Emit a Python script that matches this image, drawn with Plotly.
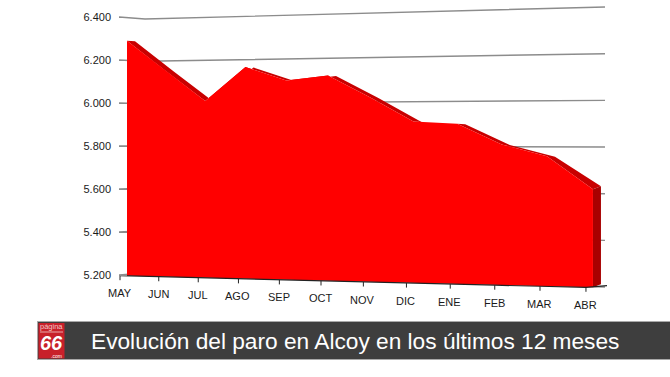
import plotly.graph_objects as go

months = ["MAY", "JUN", "JUL", "AGO", "SEP", "OCT", "NOV", "DIC", "ENE", "FEB", "MAR", "ABR"]
paro = [6293, 6150, 6010, 6163, 6100, 6120, 6020, 5913, 5903, 5812, 5761, 5620]
y_ticks = [5200, 5400, 5600, 5800, 6000, 6200, 6400]
y_labels = ["5.200", "5.400", "5.600", "5.800", "6.000", "6.200", "6.400"]
title = "Evolución del paro en Alcoy en los últimos 12 meses"

W, H = 670, 377
PLOT_L = 119
N = len(months) - 1


def v_of_px(py):
    return 5200 + (275 - py) * 1200 / 258


def px_x(i):
    return 120 + 38.4 * i + 0.36 * i * i


def base_px(i):
    return 275.7 + 11.6 * i / N


def front(i, v):
    t = i / N
    k = 0.215 + 0.0183 * t
    return px_x(i) + 7, base_px(i) - (v - 5200) * k


def back(i, v):
    x, y = front(i, v)
    return x + 8, y + (-3 if i == N else 0.5)


def wall(v):
    """Back-wall line for a value: left stub, wall corner, right end."""
    d = v - 5200
    return [(119, 275 - d * 0.215), (145, 273 - d * 0.2117), (605, 287 - d * 0.2333)]


def trace(points, **kw):
    return go.Scatter(
        x=[p[0] if p else None for p in points],
        y=[v_of_px(p[1]) if p else None for p in points],
        mode="lines", hoverinfo="skip", showlegend=False, cliponaxis=False, **kw)


def px_paper(px, py):
    return (px - PLOT_L) / (W - PLOT_L), 1 - py / H


fig = go.Figure()

for v in y_ticks:
    fig.add_trace(trace(wall(v), line=dict(color="#8c8c8c", width=1.4)))

idx = list(range(len(paro)))
bottom = [front(i, 5200) for i in reversed(idx)]

# top faces, one quad per segment
band = []
for i in idx[:-1]:
    a, b = paro[i], paro[i + 1]
    band += [front(i, a), back(i, a), back(i + 1, b), front(i + 1, b), front(i, a), None]
fig.add_trace(trace(band, fill="toself", fillcolor="#c80000", line=dict(width=0)))

side = [front(N, paro[N]), back(N, paro[N]), back(N, 5200), front(N, 5200), front(N, paro[N])]
fig.add_trace(trace(side, fill="toself", fillcolor="#a80000", line=dict(width=0)))

face = [front(i, v) for i, v in zip(idx, paro)] + bottom
fig.add_trace(trace(face + face[:1], fill="toself", fillcolor="#ff0000", line=dict(width=0)))

# baseline and month ticks
base = [(px_x(i), base_px(i)) for i in idx] + [(607, 285.7)]
fig.add_trace(trace(base, line=dict(color="#222222", width=1.2)))
tick_pts = []
for i in idx:
    tick_pts += [(px_x(i), base_px(i)), (px_x(i), base_px(i) + 4.5), None]
fig.add_trace(trace(tick_pts, line=dict(color="#222222", width=1)))

annotations = []
for i, m in enumerate(months):
    ax, ay = px_paper(px_x(i) - 0.5, 293 + 12 * i / N)
    annotations.append(dict(x=ax, y=ay, xref="paper", yref="paper", text=m, showarrow=False,
                            font=dict(family="Liberation Sans", size=11, color="#1a1a1a"),
                            xanchor="center", yanchor="middle"))


def text(px, py, s, size, anchor="center", color="white", family="Liberation Sans"):
    ax, ay = px_paper(px, py)
    annotations.append(dict(x=ax, y=ay, xref="paper", yref="paper", text=s, showarrow=False,
                            font=dict(family=family, size=size, color=color),
                            xanchor=anchor, yanchor="middle", borderpad=0))


text(90, 341, title, 22.7, anchor="left")
text(51, 326.5, "página", 7.5, color="#f3c8c8")
text(51, 342.5, "<b><i>66</i></b>", 20)
text(56, 356, ".com", 5)


def rect(x0, y0, x1, y1, color):
    a0, b0 = px_paper(x0, y0)
    a1, b1 = px_paper(x1, y1)
    return dict(type="rect", xref="paper", yref="paper", x0=a0, y0=b0, x1=a1, y1=b1,
                fillcolor=color, line=dict(width=0), layer="above")


shapes = [
    rect(37, 321, 670, 360, "#a9a9a9"),
    rect(38, 322, 670, 359, "#3e3e3e"),
    rect(38.5, 323, 64.5, 358.5, "#c8202a"),
    rect(40, 331.5, 63, 332.5, "#e9a9a9"),
]

fig.update_layout(
    width=W, height=H, autosize=False,
    margin=dict(l=PLOT_L, r=0, t=0, b=0, pad=0),
    paper_bgcolor="white", plot_bgcolor="white",
    showlegend=False, shapes=shapes, annotations=annotations,
    xaxis=dict(range=[PLOT_L, W], visible=False, fixedrange=True),
    yaxis=dict(range=[v_of_px(H), v_of_px(0)], tickmode="array", tickvals=y_ticks, ticktext=y_labels,
               ticks="inside", ticklen=8, tickcolor="#8c8c8c", tickwidth=1, showgrid=False,
               zeroline=False, showline=False, ticklabelstandoff=7, fixedrange=True,
               tickfont=dict(family="Liberation Sans", size=11, color="#1a1a1a")),
)

fig.write_html("out.html", config={"displayModeBar": False},
               post_script="document.body.style.margin='0';window.dispatchEvent(new Event('resize'));")
